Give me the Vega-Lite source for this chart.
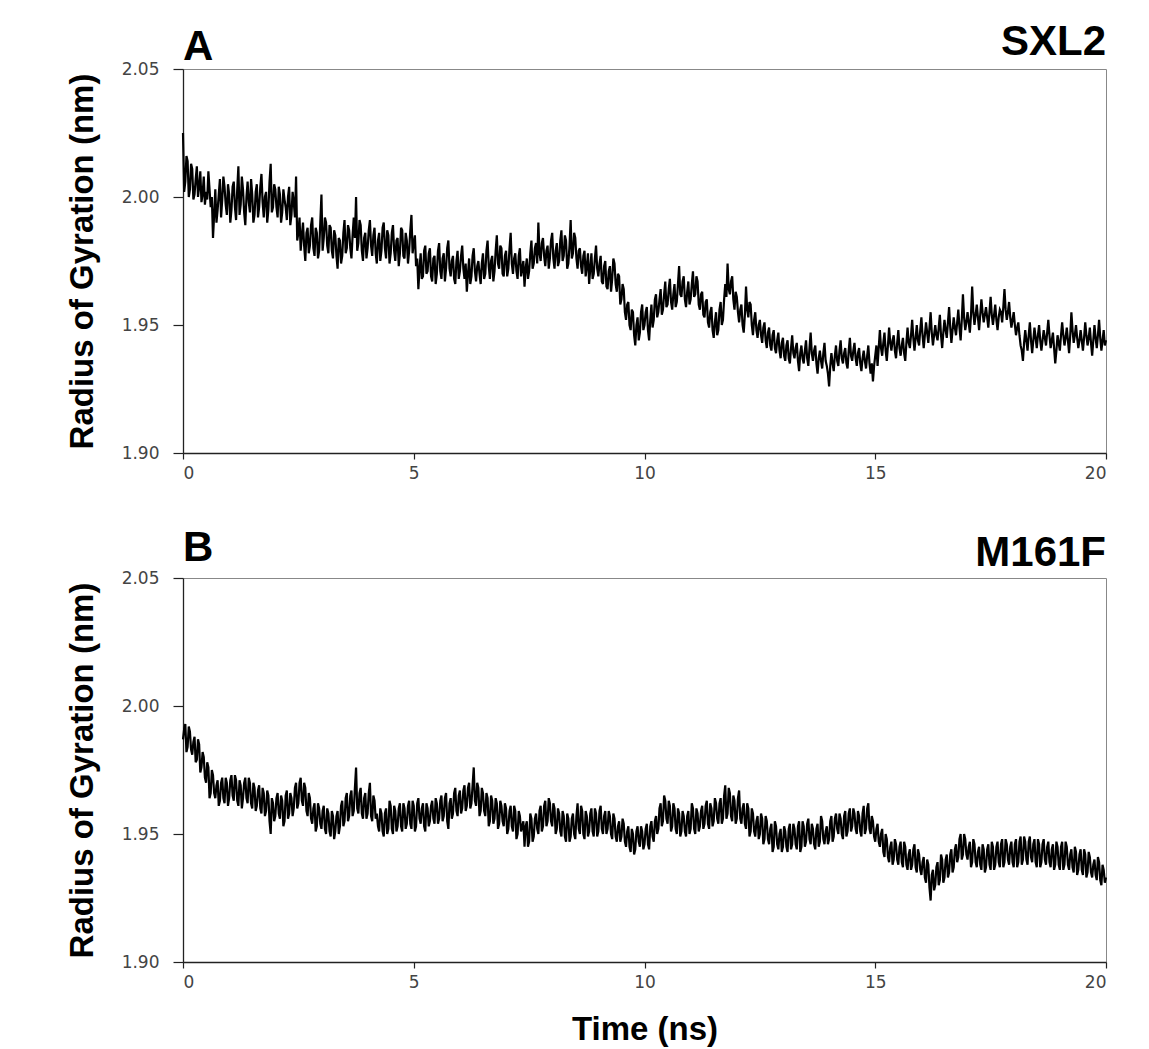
{
"$schema": "https://vega.github.io/schema/vega-lite/v6.json",
"background": "white",
"padding": {"left": 65, "top": 20, "right": 6, "bottom": 2},
"config": {
 "view": {"stroke": "#888888", "strokeWidth": 1},
 "concat": {"spacing": 44},
 "axis": {"grid": false, "domainColor": "#222222", "domainWidth": 1.3, "tickColor": "#222222", "tickWidth": 1.2,
  "labelFont": "DejaVu Sans", "labelFontSize": 17, "labelColor": "#444444",
  "titleFont": "Liberation Sans", "titleFontSize": 33, "titleFontWeight": "bold", "titleColor": "black"},
 "axisX": {"tickSize": 6, "labelPadding": 6},
 "axisY": {"tickSize": 10, "labelPadding": 14, "titlePadding": 22}
},
"datasets": {
"A": [
{"t":0,"r":2.025},{"t":0.025,"r":2.002},{"t":0.05,"r":2.006},{"t":0.075,"r":2.016},{"t":0.1,"r":2.014},{"t":0.125,"r":2.000},{"t":0.15,"r":2.003},{"t":0.175,"r":2.013},{"t":0.2,"r":2.011},{"t":0.225,"r":1.999},
{"t":0.25,"r":2.001},{"t":0.275,"r":2.007},{"t":0.3,"r":2.012},{"t":0.325,"r":2.000},{"t":0.35,"r":2.004},{"t":0.375,"r":2.010},{"t":0.4,"r":1.998},{"t":0.425,"r":2.001},{"t":0.45,"r":2.008},{"t":0.475,"r":1.997},
{"t":0.5,"r":2.002},{"t":0.525,"r":1.999},{"t":0.55,"r":2.010},{"t":0.575,"r":2.003},{"t":0.6,"r":1.996},{"t":0.625,"r":2.000},{"t":0.65,"r":1.984},{"t":0.675,"r":1.993},{"t":0.7,"r":2.003},{"t":0.725,"r":1.990},
{"t":0.75,"r":1.995},{"t":0.775,"r":2.001},{"t":0.8,"r":2.007},{"t":0.825,"r":1.992},{"t":0.85,"r":1.999},{"t":0.875,"r":2.008},{"t":0.9,"r":2.004},{"t":0.925,"r":1.997},{"t":0.95,"r":1.993},{"t":0.975,"r":2.005},
{"t":1,"r":2.001},{"t":1.025,"r":1.990},{"t":1.05,"r":1.995},{"t":1.075,"r":2.004},{"t":1.1,"r":2.006},{"t":1.125,"r":1.996},{"t":1.15,"r":1.991},{"t":1.175,"r":2.003},{"t":1.2,"r":2.012},{"t":1.225,"r":1.993},
{"t":1.25,"r":1.997},{"t":1.275,"r":2.008},{"t":1.3,"r":2.003},{"t":1.325,"r":1.994},{"t":1.35,"r":1.989},{"t":1.375,"r":2.000},{"t":1.4,"r":2.006},{"t":1.425,"r":1.998},{"t":1.45,"r":1.994},{"t":1.475,"r":2.007},
{"t":1.5,"r":2.001},{"t":1.525,"r":1.990},{"t":1.55,"r":1.993},{"t":1.575,"r":2.002},{"t":1.6,"r":2.005},{"t":1.625,"r":1.992},{"t":1.65,"r":1.996},{"t":1.675,"r":2.004},{"t":1.7,"r":2.009},{"t":1.725,"r":1.998},
{"t":1.75,"r":1.992},{"t":1.775,"r":2.000},{"t":1.8,"r":2.002},{"t":1.825,"r":1.990},{"t":1.85,"r":1.995},{"t":1.875,"r":2.006},{"t":1.9,"r":2.013},{"t":1.925,"r":1.994},{"t":1.95,"r":1.996},{"t":1.975,"r":2.005},
{"t":2,"r":2.003},{"t":2.025,"r":1.996},{"t":2.05,"r":1.992},{"t":2.075,"r":2.004},{"t":2.1,"r":2.001},{"t":2.125,"r":1.990},{"t":2.15,"r":1.994},{"t":2.175,"r":2.003},{"t":2.2,"r":1.999},{"t":2.225,"r":1.996},
{"t":2.25,"r":1.991},{"t":2.275,"r":2.000},{"t":2.3,"r":2.004},{"t":2.325,"r":1.989},{"t":2.35,"r":1.993},{"t":2.375,"r":2.002},{"t":2.4,"r":1.998},{"t":2.425,"r":1.992},{"t":2.45,"r":2.008},{"t":2.475,"r":1.983},
{"t":2.5,"r":1.986},{"t":2.525,"r":1.992},{"t":2.55,"r":1.979},{"t":2.575,"r":1.985},{"t":2.6,"r":1.990},{"t":2.625,"r":1.981},{"t":2.65,"r":1.975},{"t":2.675,"r":1.986},{"t":2.7,"r":1.988},{"t":2.725,"r":1.978},
{"t":2.75,"r":1.981},{"t":2.775,"r":1.989},{"t":2.8,"r":1.992},{"t":2.825,"r":1.980},{"t":2.85,"r":1.977},{"t":2.875,"r":1.988},{"t":2.9,"r":1.986},{"t":2.925,"r":1.976},{"t":2.95,"r":1.979},{"t":2.975,"r":1.990},
{"t":3,"r":2.001},{"t":3.025,"r":1.979},{"t":3.05,"r":1.984},{"t":3.075,"r":1.992},{"t":3.1,"r":1.990},{"t":3.125,"r":1.981},{"t":3.15,"r":1.978},{"t":3.175,"r":1.989},{"t":3.2,"r":1.988},{"t":3.225,"r":1.979},
{"t":3.25,"r":1.976},{"t":3.275,"r":1.987},{"t":3.3,"r":1.985},{"t":3.325,"r":1.977},{"t":3.35,"r":1.972},{"t":3.375,"r":1.984},{"t":3.4,"r":1.983},{"t":3.425,"r":1.974},{"t":3.45,"r":1.977},{"t":3.475,"r":1.986},
{"t":3.5,"r":1.991},{"t":3.525,"r":1.978},{"t":3.55,"r":1.980},{"t":3.575,"r":1.989},{"t":3.6,"r":1.987},{"t":3.625,"r":1.980},{"t":3.65,"r":1.976},{"t":3.675,"r":1.985},{"t":3.7,"r":1.992},{"t":3.725,"r":1.984},
{"t":3.75,"r":2.000},{"t":3.775,"r":1.979},{"t":3.8,"r":1.982},{"t":3.825,"r":1.991},{"t":3.85,"r":1.989},{"t":3.875,"r":1.979},{"t":3.9,"r":1.975},{"t":3.925,"r":1.984},{"t":3.95,"r":1.986},{"t":3.975,"r":1.976},
{"t":4,"r":1.980},{"t":4.025,"r":1.987},{"t":4.05,"r":1.991},{"t":4.075,"r":1.981},{"t":4.1,"r":1.977},{"t":4.125,"r":1.985},{"t":4.15,"r":1.988},{"t":4.175,"r":1.978},{"t":4.2,"r":1.974},{"t":4.225,"r":1.983},
{"t":4.25,"r":1.986},{"t":4.275,"r":1.975},{"t":4.3,"r":1.979},{"t":4.325,"r":1.988},{"t":4.35,"r":1.990},{"t":4.375,"r":1.980},{"t":4.4,"r":1.976},{"t":4.425,"r":1.987},{"t":4.45,"r":1.985},{"t":4.475,"r":1.974},
{"t":4.5,"r":1.978},{"t":4.525,"r":1.986},{"t":4.55,"r":1.989},{"t":4.575,"r":1.979},{"t":4.6,"r":1.975},{"t":4.625,"r":1.983},{"t":4.65,"r":1.984},{"t":4.675,"r":1.973},{"t":4.7,"r":1.978},{"t":4.725,"r":1.988},
{"t":4.75,"r":1.987},{"t":4.775,"r":1.977},{"t":4.8,"r":1.976},{"t":4.825,"r":1.986},{"t":4.85,"r":1.983},{"t":4.875,"r":1.974},{"t":4.9,"r":1.979},{"t":4.925,"r":1.987},{"t":4.95,"r":1.993},{"t":4.975,"r":1.978},
{"t":5,"r":1.982},{"t":5.025,"r":1.985},{"t":5.05,"r":1.973},{"t":5.075,"r":1.976},{"t":5.1,"r":1.964},{"t":5.125,"r":1.972},{"t":5.15,"r":1.978},{"t":5.175,"r":1.968},{"t":5.2,"r":1.969},{"t":5.225,"r":1.979},
{"t":5.25,"r":1.981},{"t":5.275,"r":1.970},{"t":5.3,"r":1.971},{"t":5.325,"r":1.978},{"t":5.35,"r":1.980},{"t":5.375,"r":1.969},{"t":5.4,"r":1.967},{"t":5.425,"r":1.976},{"t":5.45,"r":1.977},{"t":5.475,"r":1.966},
{"t":5.5,"r":1.970},{"t":5.525,"r":1.979},{"t":5.55,"r":1.982},{"t":5.575,"r":1.971},{"t":5.6,"r":1.968},{"t":5.625,"r":1.976},{"t":5.65,"r":1.978},{"t":5.675,"r":1.967},{"t":5.7,"r":1.972},{"t":5.725,"r":1.980},
{"t":5.75,"r":1.983},{"t":5.775,"r":1.972},{"t":5.8,"r":1.969},{"t":5.825,"r":1.975},{"t":5.85,"r":1.977},{"t":5.875,"r":1.968},{"t":5.9,"r":1.966},{"t":5.925,"r":1.975},{"t":5.95,"r":1.979},{"t":5.975,"r":1.968},
{"t":6,"r":1.971},{"t":6.025,"r":1.977},{"t":6.05,"r":1.981},{"t":6.075,"r":1.972},{"t":6.1,"r":1.968},{"t":6.125,"r":1.974},{"t":6.15,"r":1.963},{"t":6.175,"r":1.970},{"t":6.2,"r":1.976},{"t":6.225,"r":1.966},
{"t":6.25,"r":1.969},{"t":6.275,"r":1.977},{"t":6.3,"r":1.980},{"t":6.325,"r":1.971},{"t":6.35,"r":1.967},{"t":6.375,"r":1.973},{"t":6.4,"r":1.975},{"t":6.425,"r":1.970},{"t":6.45,"r":1.966},{"t":6.475,"r":1.974},
{"t":6.5,"r":1.978},{"t":6.525,"r":1.968},{"t":6.55,"r":1.970},{"t":6.575,"r":1.979},{"t":6.6,"r":1.983},{"t":6.625,"r":1.973},{"t":6.65,"r":1.968},{"t":6.675,"r":1.975},{"t":6.7,"r":1.977},{"t":6.725,"r":1.967},
{"t":6.75,"r":1.971},{"t":6.775,"r":1.979},{"t":6.8,"r":1.985},{"t":6.825,"r":1.974},{"t":6.85,"r":1.972},{"t":6.875,"r":1.981},{"t":6.9,"r":1.980},{"t":6.925,"r":1.970},{"t":6.95,"r":1.969},{"t":6.975,"r":1.977},
{"t":7,"r":1.979},{"t":7.025,"r":1.969},{"t":7.05,"r":1.972},{"t":7.075,"r":1.980},{"t":7.1,"r":1.986},{"t":7.125,"r":1.974},{"t":7.15,"r":1.970},{"t":7.175,"r":1.976},{"t":7.2,"r":1.978},{"t":7.225,"r":1.971},
{"t":7.25,"r":1.968},{"t":7.275,"r":1.977},{"t":7.3,"r":1.980},{"t":7.325,"r":1.969},{"t":7.35,"r":1.972},{"t":7.375,"r":1.975},{"t":7.4,"r":1.965},{"t":7.425,"r":1.972},{"t":7.45,"r":1.976},{"t":7.475,"r":1.968},
{"t":7.5,"r":1.971},{"t":7.525,"r":1.978},{"t":7.55,"r":1.983},{"t":7.575,"r":1.972},{"t":7.6,"r":1.974},{"t":7.625,"r":1.980},{"t":7.65,"r":1.982},{"t":7.675,"r":1.974},{"t":7.7,"r":1.990},{"t":7.725,"r":1.978},
{"t":7.75,"r":1.975},{"t":7.775,"r":1.982},{"t":7.8,"r":1.984},{"t":7.825,"r":1.977},{"t":7.85,"r":1.973},{"t":7.875,"r":1.979},{"t":7.9,"r":1.981},{"t":7.925,"r":1.972},{"t":7.95,"r":1.976},{"t":7.975,"r":1.983},
{"t":8,"r":1.986},{"t":8.025,"r":1.976},{"t":8.05,"r":1.972},{"t":8.075,"r":1.979},{"t":8.1,"r":1.982},{"t":8.125,"r":1.973},{"t":8.15,"r":1.975},{"t":8.175,"r":1.983},{"t":8.2,"r":1.987},{"t":8.225,"r":1.975},
{"t":8.25,"r":1.977},{"t":8.275,"r":1.985},{"t":8.3,"r":1.983},{"t":8.325,"r":1.972},{"t":8.35,"r":1.974},{"t":8.375,"r":1.981},{"t":8.4,"r":1.991},{"t":8.425,"r":1.976},{"t":8.45,"r":1.978},{"t":8.475,"r":1.986},
{"t":8.5,"r":1.984},{"t":8.525,"r":1.976},{"t":8.55,"r":1.972},{"t":8.575,"r":1.979},{"t":8.6,"r":1.980},{"t":8.625,"r":1.973},{"t":8.65,"r":1.970},{"t":8.675,"r":1.977},{"t":8.7,"r":1.979},{"t":8.725,"r":1.969},
{"t":8.75,"r":1.973},{"t":8.775,"r":1.978},{"t":8.8,"r":1.966},{"t":8.825,"r":1.972},{"t":8.85,"r":1.978},{"t":8.875,"r":1.968},{"t":8.9,"r":1.970},{"t":8.925,"r":1.976},{"t":8.95,"r":1.981},{"t":8.975,"r":1.972},
{"t":9,"r":1.969},{"t":9.025,"r":1.974},{"t":9.05,"r":1.977},{"t":9.075,"r":1.967},{"t":9.1,"r":1.966},{"t":9.125,"r":1.973},{"t":9.15,"r":1.975},{"t":9.175,"r":1.965},{"t":9.2,"r":1.964},{"t":9.225,"r":1.971},
{"t":9.25,"r":1.973},{"t":9.275,"r":1.963},{"t":9.3,"r":1.968},{"t":9.325,"r":1.976},{"t":9.35,"r":1.974},{"t":9.375,"r":1.966},{"t":9.4,"r":1.963},{"t":9.425,"r":1.970},{"t":9.45,"r":1.969},{"t":9.475,"r":1.958},
{"t":9.5,"r":1.960},{"t":9.525,"r":1.966},{"t":9.55,"r":1.964},{"t":9.575,"r":1.955},{"t":9.6,"r":1.952},{"t":9.625,"r":1.958},{"t":9.65,"r":1.959},{"t":9.675,"r":1.950},{"t":9.7,"r":1.948},{"t":9.725,"r":1.956},
{"t":9.75,"r":1.955},{"t":9.775,"r":1.946},{"t":9.8,"r":1.942},{"t":9.825,"r":1.950},{"t":9.85,"r":1.953},{"t":9.875,"r":1.944},{"t":9.9,"r":1.947},{"t":9.925,"r":1.955},{"t":9.95,"r":1.958},{"t":9.975,"r":1.948},
{"t":10,"r":1.950},{"t":10.025,"r":1.955},{"t":10.05,"r":1.957},{"t":10.075,"r":1.948},{"t":10.1,"r":1.944},{"t":10.125,"r":1.952},{"t":10.15,"r":1.958},{"t":10.175,"r":1.949},{"t":10.2,"r":1.952},{"t":10.225,"r":1.960},
{"t":10.25,"r":1.962},{"t":10.275,"r":1.953},{"t":10.3,"r":1.955},{"t":10.325,"r":1.960},{"t":10.35,"r":1.964},{"t":10.375,"r":1.954},{"t":10.4,"r":1.956},{"t":10.425,"r":1.962},{"t":10.45,"r":1.967},{"t":10.475,"r":1.957},
{"t":10.5,"r":1.958},{"t":10.525,"r":1.964},{"t":10.55,"r":1.968},{"t":10.575,"r":1.959},{"t":10.6,"r":1.956},{"t":10.625,"r":1.962},{"t":10.65,"r":1.966},{"t":10.675,"r":1.957},{"t":10.7,"r":1.959},{"t":10.725,"r":1.966},
{"t":10.75,"r":1.973},{"t":10.775,"r":1.962},{"t":10.8,"r":1.961},{"t":10.825,"r":1.967},{"t":10.85,"r":1.969},{"t":10.875,"r":1.960},{"t":10.9,"r":1.957},{"t":10.925,"r":1.963},{"t":10.95,"r":1.967},{"t":10.975,"r":1.958},
{"t":11,"r":1.960},{"t":11.025,"r":1.966},{"t":11.05,"r":1.971},{"t":11.075,"r":1.961},{"t":11.1,"r":1.962},{"t":11.125,"r":1.969},{"t":11.15,"r":1.967},{"t":11.175,"r":1.958},{"t":11.2,"r":1.956},{"t":11.225,"r":1.962},
{"t":11.25,"r":1.963},{"t":11.275,"r":1.954},{"t":11.3,"r":1.953},{"t":11.325,"r":1.959},{"t":11.35,"r":1.960},{"t":11.375,"r":1.951},{"t":11.4,"r":1.949},{"t":11.425,"r":1.955},{"t":11.45,"r":1.957},{"t":11.475,"r":1.948},
{"t":11.5,"r":1.945},{"t":11.525,"r":1.951},{"t":11.55,"r":1.955},{"t":11.575,"r":1.946},{"t":11.6,"r":1.948},{"t":11.625,"r":1.956},{"t":11.65,"r":1.959},{"t":11.675,"r":1.950},{"t":11.7,"r":1.952},{"t":11.725,"r":1.960},
{"t":11.75,"r":1.966},{"t":11.775,"r":1.961},{"t":11.8,"r":1.974},{"t":11.825,"r":1.964},{"t":11.85,"r":1.962},{"t":11.875,"r":1.967},{"t":11.9,"r":1.969},{"t":11.925,"r":1.960},{"t":11.95,"r":1.956},{"t":11.975,"r":1.963},
{"t":12,"r":1.961},{"t":12.025,"r":1.955},{"t":12.05,"r":1.951},{"t":12.075,"r":1.956},{"t":12.1,"r":1.958},{"t":12.125,"r":1.950},{"t":12.15,"r":1.947},{"t":12.175,"r":1.954},{"t":12.2,"r":1.965},{"t":12.225,"r":1.956},
{"t":12.25,"r":1.953},{"t":12.275,"r":1.959},{"t":12.3,"r":1.958},{"t":12.325,"r":1.950},{"t":12.35,"r":1.946},{"t":12.375,"r":1.952},{"t":12.4,"r":1.955},{"t":12.425,"r":1.948},{"t":12.45,"r":1.945},{"t":12.475,"r":1.950},
{"t":12.5,"r":1.952},{"t":12.525,"r":1.946},{"t":12.55,"r":1.943},{"t":12.575,"r":1.949},{"t":12.6,"r":1.951},{"t":12.625,"r":1.944},{"t":12.65,"r":1.941},{"t":12.675,"r":1.947},{"t":12.7,"r":1.949},{"t":12.725,"r":1.942},
{"t":12.75,"r":1.940},{"t":12.775,"r":1.946},{"t":12.8,"r":1.948},{"t":12.825,"r":1.941},{"t":12.85,"r":1.939},{"t":12.875,"r":1.944},{"t":12.9,"r":1.947},{"t":12.925,"r":1.940},{"t":12.95,"r":1.937},{"t":12.975,"r":1.943},
{"t":13,"r":1.945},{"t":13.025,"r":1.938},{"t":13.05,"r":1.936},{"t":13.075,"r":1.942},{"t":13.1,"r":1.944},{"t":13.125,"r":1.937},{"t":13.15,"r":1.935},{"t":13.175,"r":1.941},{"t":13.2,"r":1.946},{"t":13.225,"r":1.939},
{"t":13.25,"r":1.937},{"t":13.275,"r":1.941},{"t":13.3,"r":1.943},{"t":13.325,"r":1.936},{"t":13.35,"r":1.932},{"t":13.375,"r":1.939},{"t":13.4,"r":1.942},{"t":13.425,"r":1.937},{"t":13.45,"r":1.935},{"t":13.475,"r":1.940},
{"t":13.5,"r":1.944},{"t":13.525,"r":1.937},{"t":13.55,"r":1.934},{"t":13.575,"r":1.941},{"t":13.6,"r":1.947},{"t":13.625,"r":1.939},{"t":13.65,"r":1.936},{"t":13.675,"r":1.940},{"t":13.7,"r":1.942},{"t":13.725,"r":1.935},
{"t":13.75,"r":1.931},{"t":13.775,"r":1.937},{"t":13.8,"r":1.940},{"t":13.825,"r":1.936},{"t":13.85,"r":1.933},{"t":13.875,"r":1.939},{"t":13.9,"r":1.943},{"t":13.925,"r":1.936},{"t":13.95,"r":1.934},{"t":13.975,"r":1.931},
{"t":14,"r":1.926},{"t":14.025,"r":1.934},{"t":14.05,"r":1.939},{"t":14.075,"r":1.935},{"t":14.1,"r":1.932},{"t":14.125,"r":1.938},{"t":14.15,"r":1.942},{"t":14.175,"r":1.936},{"t":14.2,"r":1.934},{"t":14.225,"r":1.940},
{"t":14.25,"r":1.944},{"t":14.275,"r":1.937},{"t":14.3,"r":1.935},{"t":14.325,"r":1.939},{"t":14.35,"r":1.941},{"t":14.375,"r":1.935},{"t":14.4,"r":1.933},{"t":14.425,"r":1.940},{"t":14.45,"r":1.945},{"t":14.475,"r":1.938},
{"t":14.5,"r":1.936},{"t":14.525,"r":1.940},{"t":14.55,"r":1.943},{"t":14.575,"r":1.937},{"t":14.6,"r":1.934},{"t":14.625,"r":1.939},{"t":14.65,"r":1.941},{"t":14.675,"r":1.935},{"t":14.7,"r":1.932},{"t":14.725,"r":1.937},
{"t":14.75,"r":1.940},{"t":14.775,"r":1.936},{"t":14.8,"r":1.933},{"t":14.825,"r":1.938},{"t":14.85,"r":1.942},{"t":14.875,"r":1.935},{"t":14.9,"r":1.931},{"t":14.925,"r":1.935},{"t":14.95,"r":1.928},{"t":14.975,"r":1.934},
{"t":15,"r":1.938},{"t":15.025,"r":1.942},{"t":15.05,"r":1.934},{"t":15.075,"r":1.941},{"t":15.1,"r":1.948},{"t":15.125,"r":1.941},{"t":15.15,"r":1.938},{"t":15.175,"r":1.943},{"t":15.2,"r":1.947},{"t":15.225,"r":1.940},
{"t":15.25,"r":1.936},{"t":15.275,"r":1.942},{"t":15.3,"r":1.949},{"t":15.325,"r":1.943},{"t":15.35,"r":1.940},{"t":15.375,"r":1.944},{"t":15.4,"r":1.946},{"t":15.425,"r":1.940},{"t":15.45,"r":1.937},{"t":15.475,"r":1.943},
{"t":15.5,"r":1.948},{"t":15.525,"r":1.941},{"t":15.55,"r":1.938},{"t":15.575,"r":1.942},{"t":15.6,"r":1.945},{"t":15.625,"r":1.939},{"t":15.65,"r":1.936},{"t":15.675,"r":1.943},{"t":15.7,"r":1.949},{"t":15.725,"r":1.943},
{"t":15.75,"r":1.941},{"t":15.775,"r":1.946},{"t":15.8,"r":1.952},{"t":15.825,"r":1.945},{"t":15.85,"r":1.940},{"t":15.875,"r":1.945},{"t":15.9,"r":1.950},{"t":15.925,"r":1.944},{"t":15.95,"r":1.942},{"t":15.975,"r":1.948},
{"t":16,"r":1.953},{"t":16.025,"r":1.946},{"t":16.05,"r":1.941},{"t":16.075,"r":1.946},{"t":16.1,"r":1.951},{"t":16.125,"r":1.947},{"t":16.15,"r":1.943},{"t":16.175,"r":1.949},{"t":16.2,"r":1.955},{"t":16.225,"r":1.947},
{"t":16.25,"r":1.942},{"t":16.275,"r":1.946},{"t":16.3,"r":1.950},{"t":16.325,"r":1.946},{"t":16.35,"r":1.944},{"t":16.375,"r":1.949},{"t":16.4,"r":1.954},{"t":16.425,"r":1.946},{"t":16.45,"r":1.941},{"t":16.475,"r":1.947},
{"t":16.5,"r":1.952},{"t":16.525,"r":1.948},{"t":16.55,"r":1.945},{"t":16.575,"r":1.951},{"t":16.6,"r":1.957},{"t":16.625,"r":1.949},{"t":16.65,"r":1.943},{"t":16.675,"r":1.948},{"t":16.7,"r":1.953},{"t":16.725,"r":1.949},
{"t":16.75,"r":1.946},{"t":16.775,"r":1.951},{"t":16.8,"r":1.956},{"t":16.825,"r":1.949},{"t":16.85,"r":1.944},{"t":16.875,"r":1.952},{"t":16.9,"r":1.962},{"t":16.925,"r":1.953},{"t":16.95,"r":1.948},{"t":16.975,"r":1.951},
{"t":17,"r":1.955},{"t":17.025,"r":1.951},{"t":17.05,"r":1.947},{"t":17.075,"r":1.954},{"t":17.1,"r":1.965},{"t":17.125,"r":1.955},{"t":17.15,"r":1.950},{"t":17.175,"r":1.954},{"t":17.2,"r":1.958},{"t":17.225,"r":1.953},
{"t":17.25,"r":1.948},{"t":17.275,"r":1.954},{"t":17.3,"r":1.960},{"t":17.325,"r":1.955},{"t":17.35,"r":1.951},{"t":17.375,"r":1.954},{"t":17.4,"r":1.957},{"t":17.425,"r":1.953},{"t":17.45,"r":1.949},{"t":17.475,"r":1.955},
{"t":17.5,"r":1.961},{"t":17.525,"r":1.954},{"t":17.55,"r":1.950},{"t":17.575,"r":1.954},{"t":17.6,"r":1.958},{"t":17.625,"r":1.952},{"t":17.65,"r":1.948},{"t":17.675,"r":1.953},{"t":17.7,"r":1.956},{"t":17.725,"r":1.955},
{"t":17.75,"r":1.951},{"t":17.775,"r":1.957},{"t":17.8,"r":1.964},{"t":17.825,"r":1.956},{"t":17.85,"r":1.952},{"t":17.875,"r":1.955},{"t":17.9,"r":1.959},{"t":17.925,"r":1.953},{"t":17.95,"r":1.949},{"t":17.975,"r":1.952},
{"t":18,"r":1.955},{"t":18.025,"r":1.950},{"t":18.05,"r":1.946},{"t":18.075,"r":1.949},{"t":18.1,"r":1.951},{"t":18.125,"r":1.946},{"t":18.15,"r":1.942},{"t":18.175,"r":1.940},{"t":18.2,"r":1.936},{"t":18.225,"r":1.943},
{"t":18.25,"r":1.948},{"t":18.275,"r":1.944},{"t":18.3,"r":1.940},{"t":18.325,"r":1.946},{"t":18.35,"r":1.951},{"t":18.375,"r":1.944},{"t":18.4,"r":1.939},{"t":18.425,"r":1.944},{"t":18.45,"r":1.949},{"t":18.475,"r":1.945},
{"t":18.5,"r":1.941},{"t":18.525,"r":1.946},{"t":18.55,"r":1.950},{"t":18.575,"r":1.944},{"t":18.6,"r":1.940},{"t":18.625,"r":1.944},{"t":18.65,"r":1.948},{"t":18.675,"r":1.945},{"t":18.7,"r":1.942},{"t":18.725,"r":1.947},
{"t":18.75,"r":1.952},{"t":18.775,"r":1.946},{"t":18.8,"r":1.941},{"t":18.825,"r":1.944},{"t":18.85,"r":1.947},{"t":18.875,"r":1.941},{"t":18.9,"r":1.935},{"t":18.925,"r":1.940},{"t":18.95,"r":1.946},{"t":18.975,"r":1.943},
{"t":19,"r":1.940},{"t":19.025,"r":1.946},{"t":19.05,"r":1.951},{"t":19.075,"r":1.946},{"t":19.1,"r":1.942},{"t":19.125,"r":1.945},{"t":19.15,"r":1.949},{"t":19.175,"r":1.944},{"t":19.2,"r":1.939},{"t":19.225,"r":1.946},
{"t":19.25,"r":1.955},{"t":19.275,"r":1.948},{"t":19.3,"r":1.943},{"t":19.325,"r":1.946},{"t":19.35,"r":1.950},{"t":19.375,"r":1.945},{"t":19.4,"r":1.941},{"t":19.425,"r":1.944},{"t":19.45,"r":1.948},{"t":19.475,"r":1.944},
{"t":19.5,"r":1.940},{"t":19.525,"r":1.945},{"t":19.55,"r":1.951},{"t":19.575,"r":1.946},{"t":19.6,"r":1.942},{"t":19.625,"r":1.945},{"t":19.65,"r":1.949},{"t":19.675,"r":1.943},{"t":19.7,"r":1.938},{"t":19.725,"r":1.944},
{"t":19.75,"r":1.950},{"t":19.775,"r":1.945},{"t":19.8,"r":1.941},{"t":19.825,"r":1.946},{"t":19.85,"r":1.952},{"t":19.875,"r":1.945},{"t":19.9,"r":1.940},{"t":19.925,"r":1.944},{"t":19.95,"r":1.948},{"t":19.975,"r":1.942},
{"t":20,"r":1.944}
],
"B": [
{"t":0,"r":1.987},{"t":0.025,"r":1.991},{"t":0.05,"r":1.993},{"t":0.075,"r":1.982},{"t":0.1,"r":1.984},{"t":0.125,"r":1.992},{"t":0.15,"r":1.990},{"t":0.175,"r":1.983},{"t":0.2,"r":1.981},{"t":0.225,"r":1.986},
{"t":0.25,"r":1.988},{"t":0.275,"r":1.978},{"t":0.3,"r":1.979},{"t":0.325,"r":1.987},{"t":0.35,"r":1.985},{"t":0.375,"r":1.974},{"t":0.4,"r":1.976},{"t":0.425,"r":1.982},{"t":0.45,"r":1.980},{"t":0.475,"r":1.972},
{"t":0.5,"r":1.970},{"t":0.525,"r":1.978},{"t":0.55,"r":1.976},{"t":0.575,"r":1.964},{"t":0.6,"r":1.966},{"t":0.625,"r":1.975},{"t":0.65,"r":1.973},{"t":0.675,"r":1.966},{"t":0.7,"r":1.964},{"t":0.725,"r":1.969},
{"t":0.75,"r":1.971},{"t":0.775,"r":1.961},{"t":0.8,"r":1.963},{"t":0.825,"r":1.970},{"t":0.85,"r":1.972},{"t":0.875,"r":1.964},{"t":0.9,"r":1.962},{"t":0.925,"r":1.972},{"t":0.95,"r":1.970},{"t":0.975,"r":1.961},
{"t":1,"r":1.964},{"t":1.025,"r":1.971},{"t":1.05,"r":1.973},{"t":1.075,"r":1.965},{"t":1.1,"r":1.963},{"t":1.125,"r":1.973},{"t":1.15,"r":1.971},{"t":1.175,"r":1.963},{"t":1.2,"r":1.961},{"t":1.225,"r":1.971},
{"t":1.25,"r":1.969},{"t":1.275,"r":1.960},{"t":1.3,"r":1.964},{"t":1.325,"r":1.970},{"t":1.35,"r":1.972},{"t":1.375,"r":1.964},{"t":1.4,"r":1.962},{"t":1.425,"r":1.972},{"t":1.45,"r":1.970},{"t":1.475,"r":1.962},
{"t":1.5,"r":1.960},{"t":1.525,"r":1.970},{"t":1.55,"r":1.968},{"t":1.575,"r":1.959},{"t":1.6,"r":1.961},{"t":1.625,"r":1.967},{"t":1.65,"r":1.969},{"t":1.675,"r":1.960},{"t":1.7,"r":1.958},{"t":1.725,"r":1.968},
{"t":1.75,"r":1.966},{"t":1.775,"r":1.957},{"t":1.8,"r":1.959},{"t":1.825,"r":1.967},{"t":1.85,"r":1.965},{"t":1.875,"r":1.955},{"t":1.9,"r":1.950},{"t":1.925,"r":1.964},{"t":1.95,"r":1.962},{"t":1.975,"r":1.955},
{"t":2,"r":1.957},{"t":2.025,"r":1.964},{"t":2.05,"r":1.966},{"t":2.075,"r":1.958},{"t":2.1,"r":1.956},{"t":2.125,"r":1.965},{"t":2.15,"r":1.963},{"t":2.175,"r":1.953},{"t":2.2,"r":1.955},{"t":2.225,"r":1.965},
{"t":2.25,"r":1.967},{"t":2.275,"r":1.956},{"t":2.3,"r":1.958},{"t":2.325,"r":1.966},{"t":2.35,"r":1.964},{"t":2.375,"r":1.957},{"t":2.4,"r":1.960},{"t":2.425,"r":1.968},{"t":2.45,"r":1.970},{"t":2.475,"r":1.960},
{"t":2.5,"r":1.962},{"t":2.525,"r":1.970},{"t":2.55,"r":1.972},{"t":2.575,"r":1.963},{"t":2.6,"r":1.961},{"t":2.625,"r":1.970},{"t":2.65,"r":1.968},{"t":2.675,"r":1.959},{"t":2.7,"r":1.957},{"t":2.725,"r":1.966},
{"t":2.75,"r":1.964},{"t":2.775,"r":1.956},{"t":2.8,"r":1.954},{"t":2.825,"r":1.960},{"t":2.85,"r":1.962},{"t":2.875,"r":1.951},{"t":2.9,"r":1.953},{"t":2.925,"r":1.962},{"t":2.95,"r":1.960},{"t":2.975,"r":1.954},
{"t":3,"r":1.952},{"t":3.025,"r":1.959},{"t":3.05,"r":1.961},{"t":3.075,"r":1.952},{"t":3.1,"r":1.950},{"t":3.125,"r":1.960},{"t":3.15,"r":1.958},{"t":3.175,"r":1.951},{"t":3.2,"r":1.949},{"t":3.225,"r":1.959},
{"t":3.25,"r":1.957},{"t":3.275,"r":1.948},{"t":3.3,"r":1.951},{"t":3.325,"r":1.957},{"t":3.35,"r":1.959},{"t":3.375,"r":1.950},{"t":3.4,"r":1.953},{"t":3.425,"r":1.961},{"t":3.45,"r":1.963},{"t":3.475,"r":1.953},
{"t":3.5,"r":1.955},{"t":3.525,"r":1.964},{"t":3.55,"r":1.966},{"t":3.575,"r":1.955},{"t":3.6,"r":1.957},{"t":3.625,"r":1.965},{"t":3.65,"r":1.967},{"t":3.675,"r":1.957},{"t":3.7,"r":1.959},{"t":3.725,"r":1.968},
{"t":3.75,"r":1.976},{"t":3.775,"r":1.960},{"t":3.8,"r":1.958},{"t":3.825,"r":1.966},{"t":3.85,"r":1.968},{"t":3.875,"r":1.958},{"t":3.9,"r":1.956},{"t":3.925,"r":1.964},{"t":3.95,"r":1.966},{"t":3.975,"r":1.956},
{"t":4,"r":1.958},{"t":4.025,"r":1.966},{"t":4.05,"r":1.970},{"t":4.075,"r":1.957},{"t":4.1,"r":1.955},{"t":4.125,"r":1.965},{"t":4.15,"r":1.963},{"t":4.175,"r":1.956},{"t":4.2,"r":1.958},{"t":4.225,"r":1.953},
{"t":4.25,"r":1.951},{"t":4.275,"r":1.960},{"t":4.3,"r":1.958},{"t":4.325,"r":1.951},{"t":4.35,"r":1.949},{"t":4.375,"r":1.958},{"t":4.4,"r":1.960},{"t":4.425,"r":1.950},{"t":4.45,"r":1.952},{"t":4.475,"r":1.963},
{"t":4.5,"r":1.961},{"t":4.525,"r":1.952},{"t":4.55,"r":1.950},{"t":4.575,"r":1.961},{"t":4.6,"r":1.959},{"t":4.625,"r":1.951},{"t":4.65,"r":1.953},{"t":4.675,"r":1.960},{"t":4.7,"r":1.962},{"t":4.725,"r":1.953},
{"t":4.75,"r":1.951},{"t":4.775,"r":1.962},{"t":4.8,"r":1.960},{"t":4.825,"r":1.952},{"t":4.85,"r":1.954},{"t":4.875,"r":1.961},{"t":4.9,"r":1.963},{"t":4.925,"r":1.954},{"t":4.95,"r":1.952},{"t":4.975,"r":1.963},
{"t":5,"r":1.961},{"t":5.025,"r":1.951},{"t":5.05,"r":1.953},{"t":5.075,"r":1.962},{"t":5.1,"r":1.964},{"t":5.125,"r":1.956},{"t":5.15,"r":1.954},{"t":5.175,"r":1.960},{"t":5.2,"r":1.962},{"t":5.225,"r":1.953},
{"t":5.25,"r":1.951},{"t":5.275,"r":1.962},{"t":5.3,"r":1.960},{"t":5.325,"r":1.953},{"t":5.35,"r":1.955},{"t":5.375,"r":1.961},{"t":5.4,"r":1.963},{"t":5.425,"r":1.956},{"t":5.45,"r":1.954},{"t":5.475,"r":1.964},
{"t":5.5,"r":1.962},{"t":5.525,"r":1.954},{"t":5.55,"r":1.956},{"t":5.575,"r":1.963},{"t":5.6,"r":1.965},{"t":5.625,"r":1.955},{"t":5.65,"r":1.957},{"t":5.675,"r":1.964},{"t":5.7,"r":1.966},{"t":5.725,"r":1.955},
{"t":5.75,"r":1.952},{"t":5.775,"r":1.962},{"t":5.8,"r":1.964},{"t":5.825,"r":1.956},{"t":5.85,"r":1.958},{"t":5.875,"r":1.966},{"t":5.9,"r":1.968},{"t":5.925,"r":1.959},{"t":5.95,"r":1.957},{"t":5.975,"r":1.965},
{"t":6,"r":1.967},{"t":6.025,"r":1.958},{"t":6.05,"r":1.960},{"t":6.075,"r":1.967},{"t":6.1,"r":1.969},{"t":6.125,"r":1.959},{"t":6.15,"r":1.961},{"t":6.175,"r":1.968},{"t":6.2,"r":1.970},{"t":6.225,"r":1.960},
{"t":6.25,"r":1.962},{"t":6.275,"r":1.969},{"t":6.3,"r":1.976},{"t":6.325,"r":1.963},{"t":6.35,"r":1.961},{"t":6.375,"r":1.970},{"t":6.4,"r":1.968},{"t":6.425,"r":1.957},{"t":6.45,"r":1.959},{"t":6.475,"r":1.968},
{"t":6.5,"r":1.966},{"t":6.525,"r":1.959},{"t":6.55,"r":1.957},{"t":6.575,"r":1.966},{"t":6.6,"r":1.964},{"t":6.625,"r":1.953},{"t":6.65,"r":1.955},{"t":6.675,"r":1.965},{"t":6.7,"r":1.963},{"t":6.725,"r":1.954},
{"t":6.75,"r":1.956},{"t":6.775,"r":1.964},{"t":6.8,"r":1.962},{"t":6.825,"r":1.952},{"t":6.85,"r":1.954},{"t":6.875,"r":1.963},{"t":6.9,"r":1.961},{"t":6.925,"r":1.955},{"t":6.95,"r":1.953},{"t":6.975,"r":1.962},
{"t":7,"r":1.960},{"t":7.025,"r":1.950},{"t":7.05,"r":1.952},{"t":7.075,"r":1.959},{"t":7.1,"r":1.961},{"t":7.125,"r":1.953},{"t":7.15,"r":1.951},{"t":7.175,"r":1.961},{"t":7.2,"r":1.959},{"t":7.225,"r":1.948},
{"t":7.25,"r":1.950},{"t":7.275,"r":1.959},{"t":7.3,"r":1.957},{"t":7.325,"r":1.951},{"t":7.35,"r":1.953},{"t":7.375,"r":1.955},{"t":7.4,"r":1.945},{"t":7.425,"r":1.953},{"t":7.45,"r":1.955},{"t":7.475,"r":1.945},
{"t":7.5,"r":1.947},{"t":7.525,"r":1.958},{"t":7.55,"r":1.956},{"t":7.575,"r":1.947},{"t":7.6,"r":1.949},{"t":7.625,"r":1.956},{"t":7.65,"r":1.958},{"t":7.675,"r":1.952},{"t":7.7,"r":1.950},{"t":7.725,"r":1.959},
{"t":7.75,"r":1.961},{"t":7.775,"r":1.951},{"t":7.8,"r":1.953},{"t":7.825,"r":1.961},{"t":7.85,"r":1.963},{"t":7.875,"r":1.953},{"t":7.9,"r":1.955},{"t":7.925,"r":1.964},{"t":7.95,"r":1.962},{"t":7.975,"r":1.955},
{"t":8,"r":1.953},{"t":8.025,"r":1.962},{"t":8.05,"r":1.960},{"t":8.075,"r":1.950},{"t":8.1,"r":1.952},{"t":8.125,"r":1.960},{"t":8.15,"r":1.958},{"t":8.175,"r":1.951},{"t":8.2,"r":1.949},{"t":8.225,"r":1.959},
{"t":8.25,"r":1.957},{"t":8.275,"r":1.949},{"t":8.3,"r":1.947},{"t":8.325,"r":1.958},{"t":8.35,"r":1.956},{"t":8.375,"r":1.947},{"t":8.4,"r":1.949},{"t":8.425,"r":1.956},{"t":8.45,"r":1.958},{"t":8.475,"r":1.950},
{"t":8.5,"r":1.948},{"t":8.525,"r":1.957},{"t":8.55,"r":1.962},{"t":8.575,"r":1.952},{"t":8.6,"r":1.950},{"t":8.625,"r":1.961},{"t":8.65,"r":1.959},{"t":8.675,"r":1.950},{"t":8.7,"r":1.948},{"t":8.725,"r":1.959},
{"t":8.75,"r":1.957},{"t":8.775,"r":1.949},{"t":8.8,"r":1.951},{"t":8.825,"r":1.958},{"t":8.85,"r":1.960},{"t":8.875,"r":1.951},{"t":8.9,"r":1.949},{"t":8.925,"r":1.960},{"t":8.95,"r":1.958},{"t":8.975,"r":1.949},
{"t":9,"r":1.951},{"t":9.025,"r":1.959},{"t":9.05,"r":1.961},{"t":9.075,"r":1.952},{"t":9.1,"r":1.950},{"t":9.125,"r":1.957},{"t":9.15,"r":1.959},{"t":9.175,"r":1.950},{"t":9.2,"r":1.952},{"t":9.225,"r":1.959},
{"t":9.25,"r":1.957},{"t":9.275,"r":1.950},{"t":9.3,"r":1.948},{"t":9.325,"r":1.958},{"t":9.35,"r":1.956},{"t":9.375,"r":1.949},{"t":9.4,"r":1.947},{"t":9.425,"r":1.953},{"t":9.45,"r":1.955},{"t":9.475,"r":1.947},
{"t":9.5,"r":1.949},{"t":9.525,"r":1.956},{"t":9.55,"r":1.954},{"t":9.575,"r":1.947},{"t":9.6,"r":1.945},{"t":9.625,"r":1.951},{"t":9.65,"r":1.953},{"t":9.675,"r":1.945},{"t":9.7,"r":1.943},{"t":9.725,"r":1.952},
{"t":9.75,"r":1.950},{"t":9.775,"r":1.942},{"t":9.8,"r":1.944},{"t":9.825,"r":1.951},{"t":9.85,"r":1.953},{"t":9.875,"r":1.947},{"t":9.9,"r":1.945},{"t":9.925,"r":1.953},{"t":9.95,"r":1.951},{"t":9.975,"r":1.944},
{"t":10,"r":1.946},{"t":10.025,"r":1.952},{"t":10.05,"r":1.954},{"t":10.075,"r":1.946},{"t":10.1,"r":1.944},{"t":10.125,"r":1.953},{"t":10.15,"r":1.955},{"t":10.175,"r":1.949},{"t":10.2,"r":1.947},{"t":10.225,"r":1.955},
{"t":10.25,"r":1.957},{"t":10.275,"r":1.950},{"t":10.3,"r":1.952},{"t":10.325,"r":1.960},{"t":10.35,"r":1.962},{"t":10.375,"r":1.953},{"t":10.4,"r":1.955},{"t":10.425,"r":1.965},{"t":10.45,"r":1.963},{"t":10.475,"r":1.956},
{"t":10.5,"r":1.954},{"t":10.525,"r":1.963},{"t":10.55,"r":1.961},{"t":10.575,"r":1.951},{"t":10.6,"r":1.953},{"t":10.625,"r":1.962},{"t":10.65,"r":1.960},{"t":10.675,"r":1.952},{"t":10.7,"r":1.950},{"t":10.725,"r":1.960},
{"t":10.75,"r":1.958},{"t":10.775,"r":1.949},{"t":10.8,"r":1.951},{"t":10.825,"r":1.959},{"t":10.85,"r":1.957},{"t":10.875,"r":1.951},{"t":10.9,"r":1.949},{"t":10.925,"r":1.957},{"t":10.95,"r":1.959},{"t":10.975,"r":1.950},
{"t":11,"r":1.952},{"t":11.025,"r":1.962},{"t":11.05,"r":1.960},{"t":11.075,"r":1.952},{"t":11.1,"r":1.950},{"t":11.125,"r":1.960},{"t":11.15,"r":1.958},{"t":11.175,"r":1.951},{"t":11.2,"r":1.953},{"t":11.225,"r":1.959},
{"t":11.25,"r":1.961},{"t":11.275,"r":1.952},{"t":11.3,"r":1.954},{"t":11.325,"r":1.961},{"t":11.35,"r":1.963},{"t":11.375,"r":1.954},{"t":11.4,"r":1.952},{"t":11.425,"r":1.962},{"t":11.45,"r":1.960},{"t":11.475,"r":1.953},
{"t":11.5,"r":1.955},{"t":11.525,"r":1.964},{"t":11.55,"r":1.962},{"t":11.575,"r":1.956},{"t":11.6,"r":1.954},{"t":11.625,"r":1.962},{"t":11.65,"r":1.964},{"t":11.675,"r":1.954},{"t":11.7,"r":1.956},{"t":11.725,"r":1.965},
{"t":11.75,"r":1.969},{"t":11.775,"r":1.956},{"t":11.8,"r":1.958},{"t":11.825,"r":1.968},{"t":11.85,"r":1.966},{"t":11.875,"r":1.957},{"t":11.9,"r":1.955},{"t":11.925,"r":1.965},{"t":11.95,"r":1.963},{"t":11.975,"r":1.954},
{"t":12,"r":1.956},{"t":12.025,"r":1.964},{"t":12.05,"r":1.967},{"t":12.075,"r":1.956},{"t":12.1,"r":1.954},{"t":12.125,"r":1.960},{"t":12.15,"r":1.962},{"t":12.175,"r":1.954},{"t":12.2,"r":1.952},{"t":12.225,"r":1.962},
{"t":12.25,"r":1.960},{"t":12.275,"r":1.949},{"t":12.3,"r":1.951},{"t":12.325,"r":1.960},{"t":12.35,"r":1.958},{"t":12.375,"r":1.951},{"t":12.4,"r":1.949},{"t":12.425,"r":1.955},{"t":12.45,"r":1.957},{"t":12.475,"r":1.948},
{"t":12.5,"r":1.950},{"t":12.525,"r":1.958},{"t":12.55,"r":1.956},{"t":12.575,"r":1.946},{"t":12.6,"r":1.948},{"t":12.625,"r":1.957},{"t":12.65,"r":1.955},{"t":12.675,"r":1.948},{"t":12.7,"r":1.946},{"t":12.725,"r":1.952},
{"t":12.75,"r":1.954},{"t":12.775,"r":1.943},{"t":12.8,"r":1.945},{"t":12.825,"r":1.955},{"t":12.85,"r":1.953},{"t":12.875,"r":1.946},{"t":12.9,"r":1.944},{"t":12.925,"r":1.950},{"t":12.95,"r":1.952},{"t":12.975,"r":1.943},
{"t":13,"r":1.945},{"t":13.025,"r":1.953},{"t":13.05,"r":1.951},{"t":13.075,"r":1.945},{"t":13.1,"r":1.943},{"t":13.125,"r":1.952},{"t":13.15,"r":1.954},{"t":13.175,"r":1.944},{"t":13.2,"r":1.946},{"t":13.225,"r":1.954},
{"t":13.25,"r":1.952},{"t":13.275,"r":1.946},{"t":13.3,"r":1.944},{"t":13.325,"r":1.953},{"t":13.35,"r":1.955},{"t":13.375,"r":1.943},{"t":13.4,"r":1.945},{"t":13.425,"r":1.955},{"t":13.45,"r":1.953},{"t":13.475,"r":1.945},
{"t":13.5,"r":1.947},{"t":13.525,"r":1.954},{"t":13.55,"r":1.956},{"t":13.575,"r":1.948},{"t":13.6,"r":1.946},{"t":13.625,"r":1.954},{"t":13.65,"r":1.952},{"t":13.675,"r":1.946},{"t":13.7,"r":1.944},{"t":13.725,"r":1.952},
{"t":13.75,"r":1.954},{"t":13.775,"r":1.945},{"t":13.8,"r":1.947},{"t":13.825,"r":1.957},{"t":13.85,"r":1.955},{"t":13.875,"r":1.948},{"t":13.9,"r":1.946},{"t":13.925,"r":1.951},{"t":13.95,"r":1.953},{"t":13.975,"r":1.946},
{"t":14,"r":1.948},{"t":14.025,"r":1.955},{"t":14.05,"r":1.957},{"t":14.075,"r":1.947},{"t":14.1,"r":1.949},{"t":14.125,"r":1.956},{"t":14.15,"r":1.958},{"t":14.175,"r":1.952},{"t":14.2,"r":1.950},{"t":14.225,"r":1.958},
{"t":14.25,"r":1.956},{"t":14.275,"r":1.950},{"t":14.3,"r":1.948},{"t":14.325,"r":1.957},{"t":14.35,"r":1.959},{"t":14.375,"r":1.949},{"t":14.4,"r":1.951},{"t":14.425,"r":1.958},{"t":14.45,"r":1.960},{"t":14.475,"r":1.951},
{"t":14.5,"r":1.953},{"t":14.525,"r":1.960},{"t":14.55,"r":1.958},{"t":14.575,"r":1.952},{"t":14.6,"r":1.950},{"t":14.625,"r":1.959},{"t":14.65,"r":1.957},{"t":14.675,"r":1.951},{"t":14.7,"r":1.949},{"t":14.725,"r":1.958},
{"t":14.75,"r":1.961},{"t":14.775,"r":1.950},{"t":14.8,"r":1.952},{"t":14.825,"r":1.960},{"t":14.85,"r":1.962},{"t":14.875,"r":1.952},{"t":14.9,"r":1.950},{"t":14.925,"r":1.957},{"t":14.95,"r":1.955},{"t":14.975,"r":1.949},
{"t":15,"r":1.947},{"t":15.025,"r":1.952},{"t":15.05,"r":1.954},{"t":15.075,"r":1.947},{"t":15.1,"r":1.945},{"t":15.125,"r":1.950},{"t":15.15,"r":1.952},{"t":15.175,"r":1.943},{"t":15.2,"r":1.941},{"t":15.225,"r":1.950},
{"t":15.25,"r":1.948},{"t":15.275,"r":1.941},{"t":15.3,"r":1.939},{"t":15.325,"r":1.945},{"t":15.35,"r":1.947},{"t":15.375,"r":1.938},{"t":15.4,"r":1.940},{"t":15.425,"r":1.948},{"t":15.45,"r":1.946},{"t":15.475,"r":1.940},
{"t":15.5,"r":1.938},{"t":15.525,"r":1.945},{"t":15.55,"r":1.947},{"t":15.575,"r":1.939},{"t":15.6,"r":1.937},{"t":15.625,"r":1.947},{"t":15.65,"r":1.945},{"t":15.675,"r":1.938},{"t":15.7,"r":1.936},{"t":15.725,"r":1.942},
{"t":15.75,"r":1.944},{"t":15.775,"r":1.936},{"t":15.8,"r":1.938},{"t":15.825,"r":1.944},{"t":15.85,"r":1.946},{"t":15.875,"r":1.937},{"t":15.9,"r":1.935},{"t":15.925,"r":1.944},{"t":15.95,"r":1.942},{"t":15.975,"r":1.936},
{"t":16,"r":1.934},{"t":16.025,"r":1.939},{"t":16.05,"r":1.941},{"t":16.075,"r":1.933},{"t":16.1,"r":1.931},{"t":16.125,"r":1.940},{"t":16.15,"r":1.938},{"t":16.175,"r":1.929},{"t":16.2,"r":1.924},{"t":16.225,"r":1.934},
{"t":16.25,"r":1.936},{"t":16.275,"r":1.928},{"t":16.3,"r":1.930},{"t":16.325,"r":1.937},{"t":16.35,"r":1.939},{"t":16.375,"r":1.930},{"t":16.4,"r":1.932},{"t":16.425,"r":1.942},{"t":16.45,"r":1.940},{"t":16.475,"r":1.931},
{"t":16.5,"r":1.933},{"t":16.525,"r":1.940},{"t":16.55,"r":1.942},{"t":16.575,"r":1.933},{"t":16.6,"r":1.935},{"t":16.625,"r":1.942},{"t":16.65,"r":1.944},{"t":16.675,"r":1.935},{"t":16.7,"r":1.937},{"t":16.725,"r":1.944},
{"t":16.75,"r":1.946},{"t":16.775,"r":1.939},{"t":16.8,"r":1.941},{"t":16.825,"r":1.948},{"t":16.85,"r":1.950},{"t":16.875,"r":1.940},{"t":16.9,"r":1.942},{"t":16.925,"r":1.950},{"t":16.95,"r":1.948},{"t":16.975,"r":1.942},
{"t":17,"r":1.940},{"t":17.025,"r":1.945},{"t":17.05,"r":1.947},{"t":17.075,"r":1.937},{"t":17.1,"r":1.939},{"t":17.125,"r":1.948},{"t":17.15,"r":1.946},{"t":17.175,"r":1.939},{"t":17.2,"r":1.937},{"t":17.225,"r":1.943},
{"t":17.25,"r":1.945},{"t":17.275,"r":1.938},{"t":17.3,"r":1.936},{"t":17.325,"r":1.946},{"t":17.35,"r":1.944},{"t":17.375,"r":1.935},{"t":17.4,"r":1.937},{"t":17.425,"r":1.944},{"t":17.45,"r":1.946},{"t":17.475,"r":1.938},
{"t":17.5,"r":1.936},{"t":17.525,"r":1.947},{"t":17.55,"r":1.945},{"t":17.575,"r":1.936},{"t":17.6,"r":1.938},{"t":17.625,"r":1.945},{"t":17.65,"r":1.947},{"t":17.675,"r":1.939},{"t":17.7,"r":1.937},{"t":17.725,"r":1.946},
{"t":17.75,"r":1.948},{"t":17.775,"r":1.937},{"t":17.8,"r":1.939},{"t":17.825,"r":1.948},{"t":17.85,"r":1.946},{"t":17.875,"r":1.940},{"t":17.9,"r":1.938},{"t":17.925,"r":1.945},{"t":17.95,"r":1.947},{"t":17.975,"r":1.939},
{"t":18,"r":1.937},{"t":18.025,"r":1.946},{"t":18.05,"r":1.948},{"t":18.075,"r":1.937},{"t":18.1,"r":1.939},{"t":18.125,"r":1.947},{"t":18.15,"r":1.949},{"t":18.175,"r":1.938},{"t":18.2,"r":1.940},{"t":18.225,"r":1.949},
{"t":18.25,"r":1.947},{"t":18.275,"r":1.940},{"t":18.3,"r":1.938},{"t":18.325,"r":1.947},{"t":18.35,"r":1.949},{"t":18.375,"r":1.941},{"t":18.4,"r":1.939},{"t":18.425,"r":1.946},{"t":18.45,"r":1.948},{"t":18.475,"r":1.939},
{"t":18.5,"r":1.937},{"t":18.525,"r":1.948},{"t":18.55,"r":1.946},{"t":18.575,"r":1.937},{"t":18.6,"r":1.939},{"t":18.625,"r":1.946},{"t":18.65,"r":1.948},{"t":18.675,"r":1.940},{"t":18.7,"r":1.938},{"t":18.725,"r":1.945},
{"t":18.75,"r":1.947},{"t":18.775,"r":1.939},{"t":18.8,"r":1.937},{"t":18.825,"r":1.944},{"t":18.85,"r":1.946},{"t":18.875,"r":1.936},{"t":18.9,"r":1.938},{"t":18.925,"r":1.947},{"t":18.95,"r":1.945},{"t":18.975,"r":1.938},
{"t":19,"r":1.936},{"t":19.025,"r":1.945},{"t":19.05,"r":1.947},{"t":19.075,"r":1.936},{"t":19.1,"r":1.938},{"t":19.125,"r":1.947},{"t":19.15,"r":1.945},{"t":19.175,"r":1.938},{"t":19.2,"r":1.936},{"t":19.225,"r":1.942},
{"t":19.25,"r":1.944},{"t":19.275,"r":1.937},{"t":19.3,"r":1.935},{"t":19.325,"r":1.945},{"t":19.35,"r":1.943},{"t":19.375,"r":1.934},{"t":19.4,"r":1.936},{"t":19.425,"r":1.942},{"t":19.45,"r":1.944},{"t":19.475,"r":1.936},
{"t":19.5,"r":1.934},{"t":19.525,"r":1.944},{"t":19.55,"r":1.942},{"t":19.575,"r":1.933},{"t":19.6,"r":1.935},{"t":19.625,"r":1.943},{"t":19.65,"r":1.941},{"t":19.675,"r":1.935},{"t":19.7,"r":1.933},{"t":19.725,"r":1.938},
{"t":19.75,"r":1.940},{"t":19.775,"r":1.934},{"t":19.8,"r":1.932},{"t":19.825,"r":1.941},{"t":19.85,"r":1.939},{"t":19.875,"r":1.932},{"t":19.9,"r":1.930},{"t":19.925,"r":1.938},{"t":19.95,"r":1.936},{"t":19.975,"r":1.931},
{"t":20,"r":1.933}
],
"labelsA": [{"t":0,"r":2.05,"label":"A"}],
"namesA": [{"t":20,"r":2.05,"label":"SXL2"}],
"labelsB": [{"t":0,"r":2.05,"label":"B"}],
"namesB": [{"t":20,"r":2.05,"label":"M161F"}]
},
"vconcat": [
 {
  "width": 923, "height": 384,
  "layer": [
   {"data": {"name": "A"},
    "mark": {"type": "line", "color": "black", "strokeWidth": 2.2},
    "encoding": {
     "x": {"field": "t", "type": "quantitative", "scale": {"domain": [0, 20], "nice": false}, "axis": {"values": [0, 5, 10, 15, 20], "title": null}},
     "y": {"field": "r", "type": "quantitative", "scale": {"domain": [1.9, 2.05], "nice": false, "zero": false}, "axis": {"values": [1.9, 1.95, 2.0, 2.05], "format": ".2f", "title": "Radius of Gyration (nm)"}}
    }},
   {"data": {"name": "labelsA"},
    "mark": {"type": "text", "align": "left", "baseline": "alphabetic", "dy": -9, "fontSize": 42, "fontWeight": "bold", "font": "Liberation Sans", "color": "black", "clip": false},
    "encoding": {"x": {"field": "t", "type": "quantitative"}, "y": {"field": "r", "type": "quantitative"}, "text": {"field": "label"}}},
   {"data": {"name": "namesA"},
    "mark": {"type": "text", "align": "right", "baseline": "alphabetic", "dy": -14, "fontSize": 42, "fontWeight": "bold", "font": "Liberation Sans", "color": "black", "clip": false},
    "encoding": {"x": {"field": "t", "type": "quantitative"}, "y": {"field": "r", "type": "quantitative"}, "text": {"field": "label"}}}
  ]
 },
 {
  "width": 923, "height": 384,
  "layer": [
   {"data": {"name": "B"},
    "mark": {"type": "line", "color": "black", "strokeWidth": 2.2},
    "encoding": {
     "x": {"field": "t", "type": "quantitative", "scale": {"domain": [0, 20], "nice": false}, "axis": {"values": [0, 5, 10, 15, 20], "title": "Time (ns)", "titlePadding": 23}},
     "y": {"field": "r", "type": "quantitative", "scale": {"domain": [1.9, 2.05], "nice": false, "zero": false}, "axis": {"values": [1.9, 1.95, 2.0, 2.05], "format": ".2f", "title": "Radius of Gyration (nm)"}}
    }},
   {"data": {"name": "labelsB"},
    "mark": {"type": "text", "align": "left", "baseline": "alphabetic", "dy": -17, "fontSize": 42, "fontWeight": "bold", "font": "Liberation Sans", "color": "black", "clip": false},
    "encoding": {"x": {"field": "t", "type": "quantitative"}, "y": {"field": "r", "type": "quantitative"}, "text": {"field": "label"}}},
   {"data": {"name": "namesB"},
    "mark": {"type": "text", "align": "right", "baseline": "alphabetic", "dy": -12, "fontSize": 42, "fontWeight": "bold", "font": "Liberation Sans", "color": "black", "clip": false},
    "encoding": {"x": {"field": "t", "type": "quantitative"}, "y": {"field": "r", "type": "quantitative"}, "text": {"field": "label"}}}
  ]
 }
]
}
